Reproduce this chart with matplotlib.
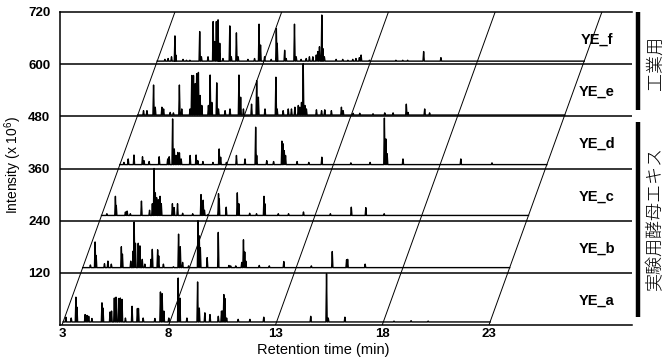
import numpy as np
import matplotlib.pyplot as plt

plt.rcParams['font.family'] = ['Liberation Sans', 'DejaVu Sans']
plt.rcParams['mathtext.fontset'] = 'custom'
plt.rcParams['mathtext.rm'] = 'Liberation Sans'

# sample names (bottom to top) and baseline offsets inside each 120-unit band
samples = ['YE_a', 'YE_b', 'YE_c', 'YE_d', 'YE_e', 'YE_f']
base_offset = [7, 12, 12, 9, 3, 7]
band = 120

# peak retention times (min) and heights (x 10^6)
ye_a_rt = [3.13, 3.38, 3.6, 3.65, 4.03, 4.12, 4.2, 4.35, 4.82, 4.87, 5.2, 5.27, 5.4, 5.48,
           5.6, 5.68, 5.76, 5.92, 6.23, 6.48, 6.53, 6.75, 7.3, 7.56, 7.64, 7.72, 7.95, 8.39,
           8.47, 8.8, 9.3, 9.38, 9.64, 9.88, 10.27, 10.42, 10.47, 10.53, 10.58, 10.66, 11.2,
           11.75, 12.4, 14.6, 15.34, 15.42, 16.2, 18.5, 19.3, 20.1]
ye_a_h = [11, 9, 57, 34, 17, 15, 13, 8, 44, 32, 23, 25, 55, 57,
          54, 55, 52, 9, 36, 31, 31, 9, 8, 69, 65, 25, 9, 101,
          55, 9, 92, 32, 21, 17, 13, 25, 25, 63, 54, 9, 6,
          6, 11, 13, 111, 9, 11, 2, 3, 2]

ye_b_rt = [3.36, 3.58, 3.63, 4.02, 4.18, 4.34, 4.81, 4.86, 5.25, 5.36, 5.41, 5.47, 5.6, 5.68,
           5.79, 5.91, 6.2, 6.26, 6.51, 6.56, 6.78, 7.25, 7.49, 7.57, 7.68, 7.96, 8.4, 8.46,
           8.51, 8.83, 9.35, 9.85, 9.93, 10.17, 10.45, 10.53, 10.59, 10.64, 11.27, 11.74,
           12.42, 13.71, 14.69, 15.36, 15.41, 16.23]
ye_b_h = [6, 59, 28, 9, 15, 8, 48, 31, 15, 38, 105, 56, 56, 50,
          19, 8, 19, 42, 41, 27, 8, 2, 77, 48, 12, 4, 108, 73,
          46, 23, 81, 5, 4, 4, 12, 64, 36, 15, 5, 4,
          14, 4, 37, 18, 19, 8]

ye_c_rt = [3.25, 3.65, 3.69, 4.12, 4.2, 4.35, 4.87, 5.25, 5.38, 5.46, 5.52, 5.58, 5.66, 5.74,
           5.8, 6.32, 6.4, 6.56, 6.8, 7.27, 7.66, 7.76, 7.82, 7.98, 8.48, 8.51, 8.84, 9.36,
           9.43, 9.94, 10.26, 10.61, 10.65, 11.28, 11.76, 12.46, 13.72, 14.7, 15.38, 16.24]
ye_c_h = [4, 44, 23, 8, 10, 4, 33, 12, 27, 108, 52, 41, 36, 44,
          27, 27, 18, 27, 5, 4, 48, 35, 12, 2, 50, 38, 19, 52,
          27, 5, 4, 44, 27, 4, 4, 8, 4, 19, 18, 4]

ye_d_rt = [3.19, 3.39, 3.66, 4.06, 4.13, 4.37, 4.84, 5.24, 5.31, 5.47, 5.55, 5.63, 5.71, 5.79,
           5.87, 6.29, 6.57, 6.65, 6.89, 7.36, 7.65, 7.72, 7.99, 8.46, 8.86, 9.36, 9.41, 9.88,
           10.2, 10.59, 10.64, 10.7, 10.76, 11.3, 11.85, 12.46, 13.82, 14.72, 15.39, 15.46,
           15.52, 16.26, 18.97, 20.43]
ye_d_h = [5, 13, 22, 18, 9, 7, 18, 13, 18, 105, 36, 21, 28, 27,
          13, 21, 22, 9, 7, 5, 36, 17, 5, 21, 13, 86, 21, 9,
          7, 54, 48, 32, 21, 7, 5, 17, 4, 5, 107, 59,
          25, 13, 13, 4]

ye_e_rt = [3.27, 3.43, 3.74, 3.82, 4.13, 4.21, 4.52, 4.67, 4.95, 5.06, 5.45, 5.53, 5.61, 5.69,
           5.76, 5.84, 5.92, 6.0, 6.31, 6.39, 6.47, 6.7, 6.78, 7.09, 7.32, 7.74, 7.82, 7.95,
           8.33, 8.57, 8.65, 8.96, 9.47, 9.53, 9.81, 10.05, 10.2, 10.36, 10.52, 10.59, 10.67,
           10.75, 10.83, 10.9, 11.37, 11.61, 11.76, 12.07, 12.54, 12.62, 13.09, 13.4, 14.02,
           14.57, 14.96, 15.58, 15.66, 16.44, 16.67]
ye_e_h = [10, 10, 69, 18, 18, 14, 6, 5, 69, 14, 14, 91, 91, 72,
          95, 98, 45, 22, 22, 92, 29, 74, 14, 10, 14, 92, 41, 14,
          25, 79, 41, 14, 87, 14, 10, 14, 14, 18, 22, 18, 29,
          118, 22, 14, 12, 10, 12, 10, 18, 10, 4, 4, 3,
          5, 5, 25, 6, 14, 5]

ye_f_rt = [3.36, 3.51, 3.67, 3.83, 3.87, 4.21, 4.37, 4.53, 4.99, 5.07, 5.38, 5.62, 5.69, 5.77,
           5.85, 5.9, 5.93, 6.08, 6.4, 6.47, 6.71, 6.79, 7.25, 7.56, 7.77, 7.84, 8.03, 8.34,
           8.58, 8.62, 8.97, 9.04, 9.43, 9.51, 9.74, 9.98, 10.13, 10.29, 10.45, 10.52, 10.6,
           10.71, 10.76, 10.83, 11.38, 11.69, 11.93, 12.16, 12.31, 12.47, 12.55, 12.94, 14.18,
           14.5, 14.73, 15.48, 16.29]
ye_f_h = [4, 6, 10, 58, 14, 4, 2, 2, 68, 10, 10, 91, 45, 91,
          95, 29, 41, 6, 81, 10, 65, 10, 4, 6, 85, 37, 10, 4,
          75, 41, 25, 6, 85, 10, 4, 6, 10, 10, 14, 22, 33,
          106, 29, 10, 4, 4, 2, 4, 6, 8, 14, 2, 2,
          2, 2, 22, 8]

peak_rt = [ye_a_rt, ye_b_rt, ye_c_rt, ye_d_rt, ye_e_rt, ye_f_rt]
peak_h = [ye_a_h, ye_b_h, ye_c_h, ye_d_h, ye_e_h, ye_f_h]

x_ticks = [3, 8, 13, 18, 23]
y_ticks = [120, 240, 360, 480, 600, 720]
run_start, run_end = 3, 23
skew = 5.29 / 720  # min of horizontal shift per intensity unit (perspective)

fig = plt.figure(figsize=(6.72, 3.62), dpi=100)
ax = fig.add_axes([60 / 672, 37 / 362, 572 / 672, 313 / 362])
ax.set_xlim(2.906, 29.7)
ax.set_ylim(0, 720)

# band separators
for lv in y_ticks[:-1]:
    ax.axhline(lv, color='black', lw=1.1, zorder=3)

# oblique time grid lines
for t in x_ticks:
    ax.plot([t, t + 720 * skew], [0, 720], color='black', lw=0.7, zorder=2)


def trace(rts, hs, w=0.03):
    order = np.argsort(rts)
    xs, ys = [run_start], [0.0]
    for i in order:
        xs += [rts[i] - w, rts[i], rts[i] + w]
        ys += [0.0, hs[i], 0.0]
    xs.append(run_end)
    ys.append(0.0)
    return np.array(xs), np.array(ys)


for k, name in enumerate(samples):
    base = k * band + base_offset[k]
    xs, ys = trace(peak_rt[k], peak_h[k])
    ax.plot(xs + base * skew, ys + base, color='black', lw=1.0, zorder=4)
    ax.text(28.05, k * band + 56, name, ha='center', va='center',
            fontsize=10.5, fontweight='bold')

# group bars and labels on the right
ax.plot([30.0, 30.0], [720, 495], color='black', lw=3.2, clip_on=False,
        solid_capstyle='butt')
ax.plot([30.0, 30.0], [468, 18], color='black', lw=3.2, clip_on=False,
        solid_capstyle='butt')
jp = ['Noto Sans CJK JP', 'DejaVu Sans']
ax.text(30.8, 603, '工業用', rotation=90, ha='center', va='center',
        fontsize=13, family=jp, fontweight='light')
ax.text(30.8, 245, '実験用酵母エキス', rotation=90, ha='center', va='center',
        fontsize=13, family=jp, fontweight='light')

ax.set_xticks(x_ticks)
ax.set_yticks(y_ticks)
ax.tick_params(length=0, labelsize=9.5)
ax.tick_params(axis='y', pad=7)
ax.tick_params(axis='x', pad=2)
for lab in ax.get_xticklabels() + ax.get_yticklabels():
    lab.set_fontweight('bold')

for side in ['left', 'bottom', 'top']:
    ax.spines[side].set_linewidth(1.1)
ax.spines['right'].set_visible(False)

ax.set_xlabel('Retention time (min)', fontsize=10.5)
ax.set_ylabel('Intensity (x 10$^{6}$)', fontsize=10)
ax.xaxis.set_label_coords(0.46, -0.058)
ax.yaxis.set_label_coords(-0.063, 0.51)

fig.savefig('out.png', dpi=100)
